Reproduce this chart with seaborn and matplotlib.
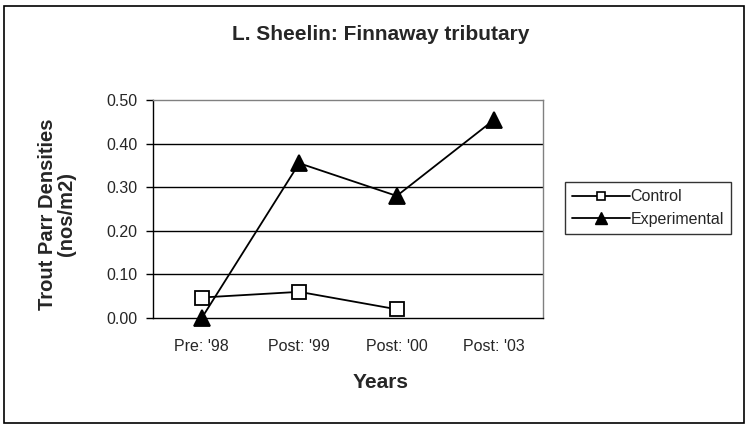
import numpy as np
import pandas as pd
import matplotlib.pyplot as plt
import seaborn as sns
from matplotlib.patches import Rectangle
from matplotlib.lines import Line2D

# ======= data =======
years = ["Pre: '98", "Post: '99", "Post: '00", "Post: '03"]
control = [0.047, 0.06, 0.02, np.nan]
experimental = [0.0, 0.355, 0.28, 0.455]

df = pd.DataFrame({
    'pos': list(range(len(years))) * 2,
    'density': control + experimental,
    'group': ['Control'] * len(years) + ['Experimental'] * len(years),
})

sns.set_style("white")
plt.rcParams['font.family'] = ['Liberation Sans', 'DejaVu Sans']

fig = plt.figure(figsize=(7.51, 4.28), dpi=100)
ax = fig.add_axes([153 / 751, 1 - 318 / 428, 390 / 751, 218 / 428])

sns.lineplot(data=df, x='pos', y='density', hue='group', style='group',
             palette={'Control': 'black', 'Experimental': 'black'},
             markers={'Control': 's', 'Experimental': '^'},
             dashes=False, ax=ax, legend=False, linewidth=1.3)

# marker styling like excel
for line, face, ms in zip(ax.lines, ['white', 'black'], [9.5, 12]):
    line.set_markerfacecolor(face)
    line.set_markeredgecolor('black')
    line.set_markersize(ms)
    line.set_markeredgewidth(1.3)
    line.set_clip_on(False)
    line.set_zorder(5)

ax.set_xlim(-0.5, len(years) - 0.5)
ax.set_ylim(0, 0.5)
ax.set_yticks(np.arange(0, 0.51, 0.1))
ax.set_yticklabels([f'{v:.2f}' for v in np.arange(0, 0.51, 0.1)], fontsize=11.5)
ax.set_xticks(range(len(years)))
ax.set_xticklabels(years, fontsize=11.5)
ax.set_xticks(np.arange(-0.5, len(years), 1), minor=True)
ax.tick_params(axis='x', which='major', length=0, pad=15)
ax.tick_params(axis='x', which='minor', length=5, width=1, direction='out', color='black')
ax.tick_params(axis='y', length=5, width=1, direction='out', color='black', left=True, pad=6)

for v in [0.1, 0.2, 0.3, 0.4]:
    ax.axhline(v, color='black', linewidth=1.0, zorder=0)

ax.spines['left'].set_color('black')
ax.spines['bottom'].set_color('black')
ax.spines['top'].set_color('#808080')
ax.spines['right'].set_color('#808080')
for s in ax.spines.values():
    s.set_linewidth(1)
    s.set_visible(True)

ax.set_xlabel('')
ax.set_ylabel('')
fig.text(381 / 751, 1 - 382 / 428, 'Years', ha='center', va='center',
         fontsize=15, fontweight='bold')
fig.text(57 / 751, 1 - 214 / 428, 'Trout Parr Densities\n(nos/m2)', ha='center', va='center',
         rotation=90, fontsize=14.5, fontweight='bold', linespacing=1.05)
fig.text(381 / 751, 1 - 35 / 428, 'L. Sheelin: Finnaway tributary',
         ha='center', va='center', fontsize=15, fontweight='bold')

handles = [
    Line2D([], [], color='black', lw=1.3, marker='s', markersize=6,
           markerfacecolor='white', markeredgecolor='black', markeredgewidth=1.2),
    Line2D([], [], color='black', lw=1.3, marker='^', markersize=8,
           markerfacecolor='black', markeredgecolor='black'),
]
leg = fig.legend(handles=handles, labels=['Control', 'Experimental'],
                 loc='center left', bbox_to_anchor=(565 / 751, 1 - 208 / 428),
                 frameon=True, fancybox=False, fontsize=11.5, handlelength=3.6,
                 handletextpad=0.05, borderpad=0.45, labelspacing=0.45, borderaxespad=0)
leg.get_frame().set_edgecolor('black')
leg.get_frame().set_linewidth(1)

fig.add_artist(Rectangle((4 / 751, 5 / 428), 740 / 751, 417 / 428, transform=fig.transFigure,
                         fill=False, edgecolor='black', linewidth=1.2))

plt.savefig('out.png', dpi=100)
